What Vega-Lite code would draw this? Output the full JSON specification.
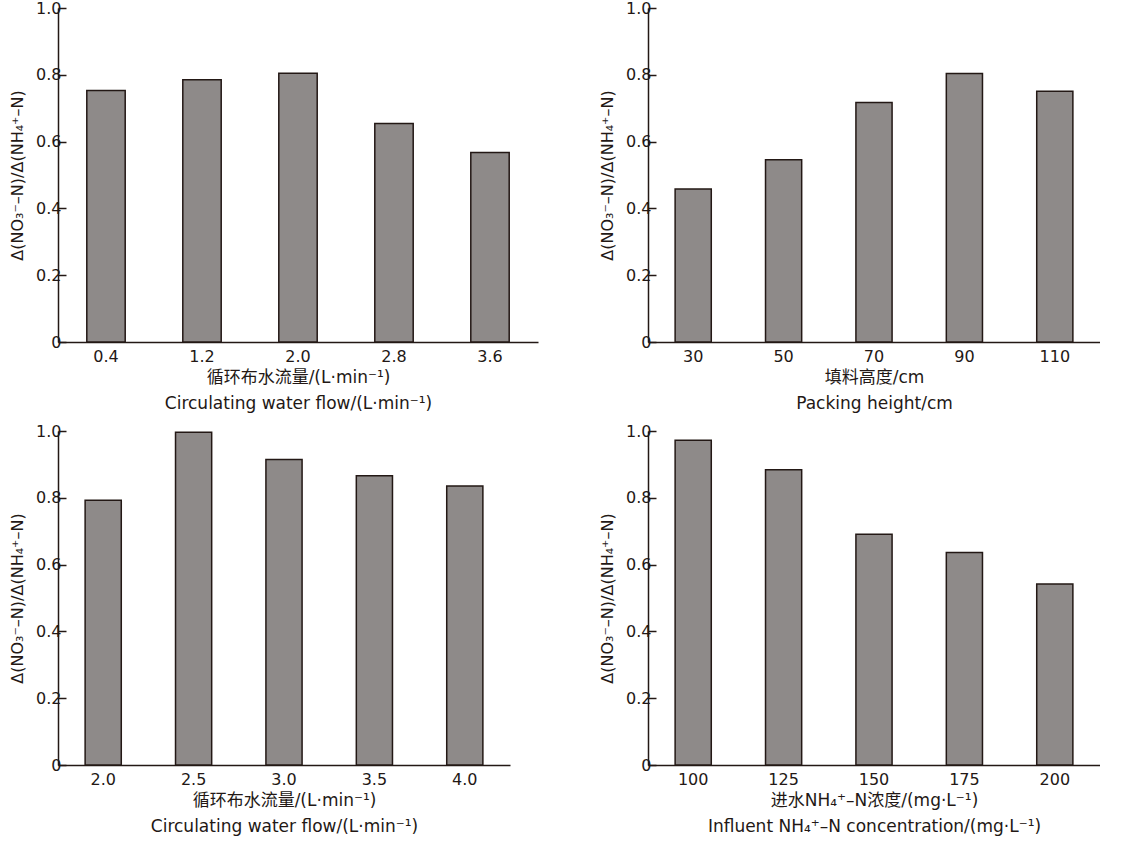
{
  "$schema": "https://vega.github.io/schema/vega-lite/v6.json",
  "background": "white",
  "padding": {"left": 9, "top": 0, "right": 0, "bottom": 12},
  "config": {
    "font": "DejaVu Sans, Noto Sans CJK SC",
    "view": {"stroke": null},
    "axis": {
      "grid": false,
      "domainColor": "#231815",
      "domainWidth": 1.5,
      "tickColor": "#231815",
      "tickWidth": 1.5,
      "labelColor": "#231815",
      "titleColor": "#231815",
      "labelFont": "DejaVu Sans, Noto Sans CJK SC",
      "titleFont": "DejaVu Sans, Noto Sans CJK SC",
      "labelFontSize": 16,
      "titleFontSize": 16,
      "titleFontWeight": "normal"
    },
    "axisY": {"tickSize": -8, "labelPadding": 5, "titlePadding": 10},
    "axisX": {"ticks": false, "labelAngle": 0, "labelPadding": 6, "titleFontSize": 17, "titleLineHeight": 26, "titlePadding": 5},
    "bar": {"fill": "#8e8a89", "stroke": "#231815", "strokeWidth": 1.5}
  },
  "data": {
    "values": [
      {"panel": "a", "x": "0.4", "ratio": 0.753},
      {"panel": "a", "x": "1.2", "ratio": 0.785},
      {"panel": "a", "x": "2.0", "ratio": 0.805},
      {"panel": "a", "x": "2.8", "ratio": 0.654},
      {"panel": "a", "x": "3.6", "ratio": 0.567},
      {"panel": "b", "x": "30", "ratio": 0.458},
      {"panel": "b", "x": "50", "ratio": 0.546},
      {"panel": "b", "x": "70", "ratio": 0.717},
      {"panel": "b", "x": "90", "ratio": 0.804},
      {"panel": "b", "x": "110", "ratio": 0.751},
      {"panel": "c", "x": "2.0", "ratio": 0.793},
      {"panel": "c", "x": "2.5", "ratio": 0.996},
      {"panel": "c", "x": "3.0", "ratio": 0.915},
      {"panel": "c", "x": "3.5", "ratio": 0.866},
      {"panel": "c", "x": "4.0", "ratio": 0.835},
      {"panel": "d", "x": "100", "ratio": 0.972},
      {"panel": "d", "x": "125", "ratio": 0.884},
      {"panel": "d", "x": "150", "ratio": 0.691},
      {"panel": "d", "x": "175", "ratio": 0.636},
      {"panel": "d", "x": "200", "ratio": 0.542}
    ]
  },
  "spacing": 12,
  "vconcat": [
    {
      "spacing": 61,
      "hconcat": [
        {
          "width": 480,
          "height": 334,
          "transform": [{"filter": "datum.panel == 'a'"}],
          "mark": {"type": "bar"},
          "encoding": {
            "x": {
              "field": "x",
              "type": "ordinal",
              "sort": null,
              "scale": {"paddingInner": 0.6, "paddingOuter": 0.3},
              "axis": {"title": ["循环布水流量/(L·min⁻¹)", "Circulating water flow/(L·min⁻¹)"]}
            },
            "y": {
              "field": "ratio",
              "type": "quantitative",
              "scale": {"domain": [0, 1], "nice": false},
              "axis": {
                "values": [0, 0.2, 0.4, 0.6, 0.8, 1.0],
                "labelExpr": "datum.value == 0 ? '0' : format(datum.value, '.1f')",
                "title": "Δ(NO₃⁻–N)/Δ(NH₄⁺–N)"
              }
            }
          }
        },
        {
          "width": 452,
          "height": 334,
          "transform": [{"filter": "datum.panel == 'b'"}],
          "mark": {"type": "bar"},
          "encoding": {
            "x": {
              "field": "x",
              "type": "ordinal",
              "sort": null,
              "scale": {"paddingInner": 0.6, "paddingOuter": 0.3},
              "axis": {"title": ["填料高度/cm", "Packing height/cm"]}
            },
            "y": {
              "field": "ratio",
              "type": "quantitative",
              "scale": {"domain": [0, 1], "nice": false},
              "axis": {
                "values": [0, 0.2, 0.4, 0.6, 0.8, 1.0],
                "labelExpr": "datum.value == 0 ? '0' : format(datum.value, '.1f')",
                "title": "Δ(NO₃⁻–N)/Δ(NH₄⁺–N)"
              }
            }
          }
        }
      ]
    },
    {
      "spacing": 89,
      "hconcat": [
        {
          "width": 452,
          "height": 334,
          "transform": [{"filter": "datum.panel == 'c'"}],
          "mark": {"type": "bar"},
          "encoding": {
            "x": {
              "field": "x",
              "type": "ordinal",
              "sort": null,
              "scale": {"paddingInner": 0.6, "paddingOuter": 0.3},
              "axis": {"title": ["循环布水流量/(L·min⁻¹)", "Circulating water flow/(L·min⁻¹)"]}
            },
            "y": {
              "field": "ratio",
              "type": "quantitative",
              "scale": {"domain": [0, 1], "nice": false},
              "axis": {
                "values": [0, 0.2, 0.4, 0.6, 0.8, 1.0],
                "labelExpr": "datum.value == 0 ? '0' : format(datum.value, '.1f')",
                "title": "Δ(NO₃⁻–N)/Δ(NH₄⁺–N)"
              }
            }
          }
        },
        {
          "width": 452,
          "height": 334,
          "transform": [{"filter": "datum.panel == 'd'"}],
          "mark": {"type": "bar"},
          "encoding": {
            "x": {
              "field": "x",
              "type": "ordinal",
              "sort": null,
              "scale": {"paddingInner": 0.6, "paddingOuter": 0.3},
              "axis": {"title": ["进水NH₄⁺–N浓度/(mg·L⁻¹)", "Influent NH₄⁺–N concentration/(mg·L⁻¹)"]}
            },
            "y": {
              "field": "ratio",
              "type": "quantitative",
              "scale": {"domain": [0, 1], "nice": false},
              "axis": {
                "values": [0, 0.2, 0.4, 0.6, 0.8, 1.0],
                "labelExpr": "datum.value == 0 ? '0' : format(datum.value, '.1f')",
                "title": "Δ(NO₃⁻–N)/Δ(NH₄⁺–N)"
              }
            }
          }
        }
      ]
    }
  ]
}
